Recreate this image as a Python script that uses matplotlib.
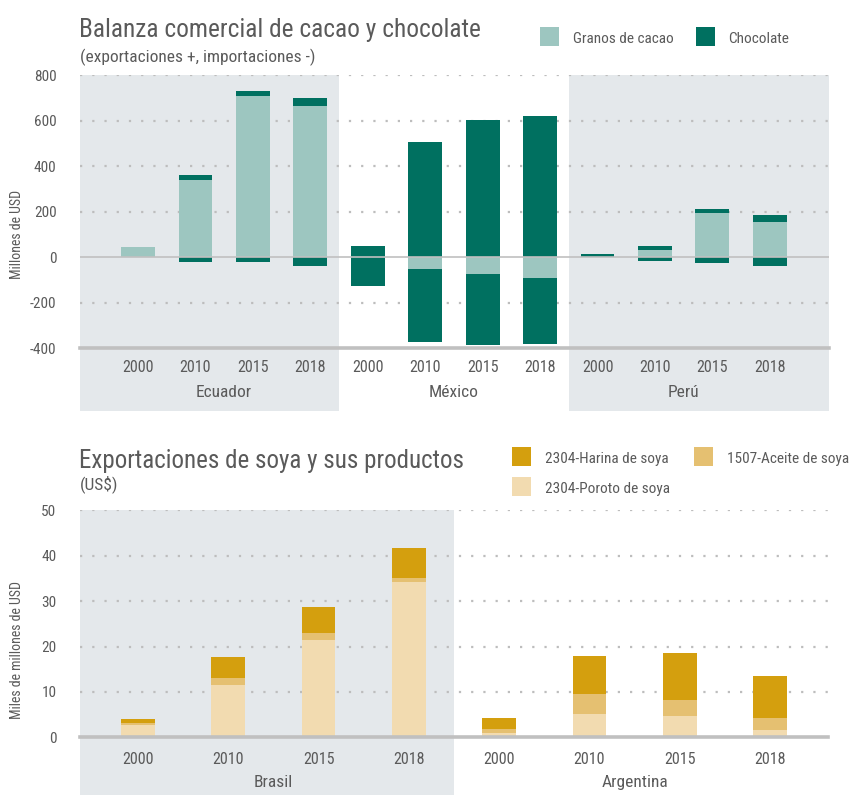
import matplotlib
matplotlib.use("Agg")
import matplotlib.pyplot as plt
from matplotlib import font_manager as fm
from matplotlib.patches import Rectangle
from matplotlib import transforms

# ---------------- data ----------------
years = ["2000", "2010", "2015", "2018"]
countries_cacao = ["Ecuador", "México", "Perú"]
cacao_exp = [45, 341, 710, 665, 0, 0, 0, 0, 0, 32, 195, 155]
choc_exp = [0, 21, 21, 35, 50, 507, 604, 620, 14, 18, 17, 31]
cacao_imp = [0, 0, 0, 0, 0, -52, -74, -91, 0, 0, 0, 0]
choc_imp = [0, -21, -21, -38, -126, -320, -311, -290, 0, -16, -25, -38]
cacao_yticks = [-400, -200, 0, 200, 400, 600, 800]

countries_soya = ["Brasil", "Argentina"]
poroto = [2.7, 11.5, 21.4, 34.2, 0.9, 5.1, 4.7, 1.6]
aceite = [0.45, 1.6, 1.6, 0.9, 0.9, 4.4, 3.5, 2.6]
harina = [0.85, 4.6, 5.7, 6.6, 2.4, 8.4, 10.4, 9.3]
soya_yticks = [0, 10, 20, 30, 40, 50]

# ---------------- style ----------------
C_CACAO = "#9dc6c0"
C_CHOC = "#007060"
C_HARINA = "#d49f0e"
C_ACEITE = "#e5c071"
C_POROTO = "#f2dbb0"
C_SHADE = "#e4e8eb"
C_TEXT = "#5a5a5a"
C_GRID = "#bdbdbd"
C_AXIS = "#c0c0c0"

# condensed font search
cond_path = None
pref = ["Roboto Condensed", "Liberation Sans Narrow", "Open Sans Condensed", "DejaVu Sans"]
cands = []
for f in fm.fontManager.ttflist:
    st = str(f.stretch)
    is_cond = ("ondensed" in st) or ("Narrow" in f.name) or ("Condensed" in f.name)
    if is_cond and f.style == "normal" and f.weight in (400, "normal", "regular", "book"):
        cands.append(f)
for p in pref:
    for f in cands:
        if f.name == p and "Bold" not in f.fname and "Light" not in f.fname:
            cond_path = f.fname
            break
    if cond_path:
        break
if cond_path is None and cands:
    cond_path = cands[0].fname


def fp(size):
    if cond_path:
        return fm.FontProperties(fname=cond_path, size=size)
    return fm.FontProperties(family="Liberation Sans", size=size * 0.88)


W, H = 853, 795
fig = plt.figure(figsize=(W / 100, H / 100), dpi=100)


def fx(x):
    return x / W


def fy(y):
    return 1 - y / H


def add_rect(x, y, w, h, color):
    fig.add_artist(Rectangle((fx(x), fy(y + h)), w / W, h / H,
                             transform=fig.transFigure, color=color, lw=0))


# ================= TOP CHART =================
ax1 = fig.add_axes([fx(80), fy(348.3), 749 / W, 273 / H])
ax1.patch.set_visible(False)
x1 = list(range(12))
ax1.set_xlim(-1.01, 12.03)
ax1.set_ylim(-400, 800)
for s in ax1.spines.values():
    s.set_visible(False)

bt1 = transforms.blended_transform_factory(ax1.transData, ax1.transAxes)
for (a, b) in [(-1.01, 3.5), (7.5, 12.03)]:
    ax1.add_patch(Rectangle((a, -0.231), b - a, 1.231, transform=bt1,
                            color=C_SHADE, lw=0, zorder=0, clip_on=False))

for yv in cacao_yticks:
    if yv in (0, -400):
        continue
    ax1.axhline(yv, color=C_GRID, lw=1.6, ls=(0, (1, 4.5)), zorder=1)

bw = 0.59
ax1.bar(x1, cacao_exp, width=bw, color=C_CACAO, zorder=2, lw=0)
ax1.bar(x1, choc_exp, width=bw, bottom=cacao_exp, color=C_CHOC, zorder=2, lw=0)
ax1.bar(x1, cacao_imp, width=bw, color=C_CACAO, zorder=2, lw=0)
ax1.bar(x1, choc_imp, width=bw, bottom=cacao_imp, color=C_CHOC, zorder=2, lw=0)
ax1.axhline(0, color=C_AXIS, lw=1.2, zorder=3)
ax1.axhline(-400, color=C_AXIS, lw=2.6, zorder=3, clip_on=False)

ax1.set_xticks([])
ax1.set_yticks(cacao_yticks)
ax1.set_yticklabels([str(v) for v in cacao_yticks], fontproperties=fp(11), color=C_TEXT)
ax1.tick_params(axis="y", length=0, pad=17)

for i, xv in enumerate(x1):
    ax1.text(xv, -0.0696, years[i % 4], transform=bt1, ha="center", va="center",
             fontproperties=fp(11.5), color=C_TEXT)
for g, name in enumerate(countries_cacao):
    ax1.text(g * 4 + 1.5, -0.161, name, transform=bt1, ha="center", va="center",
             fontproperties=fp(12.5), color=C_TEXT)

fig.text(fx(17), fy(234), "Millones de USD", rotation=90, ha="center", va="center",
         fontproperties=fp(10), color=C_TEXT)

fig.text(fx(79), fy(37), "Balanza comercial de cacao y chocolate", ha="left",
         va="baseline", fontproperties=fp(18.3), color=C_TEXT)
fig.text(fx(80), fy(57), "(exportaciones +, importaciones -)", ha="left",
         va="center", fontproperties=fp(12.5), color=C_TEXT)

add_rect(540, 27, 19, 19, C_CACAO)
fig.text(fx(573), fy(39), "Granos de cacao", ha="left", va="center",
         fontproperties=fp(11), color=C_TEXT)
add_rect(696, 27, 19, 19, C_CHOC)
fig.text(fx(728), fy(39), "Chocolate", ha="left", va="center",
         fontproperties=fp(11), color=C_TEXT)

# ================= BOTTOM CHART =================
ax2 = fig.add_axes([fx(80), fy(737.3), 748 / W, 227 / H])
ax2.patch.set_visible(False)
x2 = list(range(8))
ax2.set_xlim(-0.642, 7.642)
ax2.set_ylim(0, 50)
for s in ax2.spines.values():
    s.set_visible(False)

bt2 = transforms.blended_transform_factory(ax2.transData, ax2.transAxes)
ax2.add_patch(Rectangle((-0.642, -0.3), 3.5 + 0.642, 1.3, transform=bt2,
                        color=C_SHADE, lw=0, zorder=0, clip_on=False))

for yv in soya_yticks[1:]:
    ax2.axhline(yv, color=C_GRID, lw=1.6, ls=(0, (1, 4.5)), zorder=1)

bw2 = 0.375
b2 = [p + a for p, a in zip(poroto, aceite)]
ax2.bar(x2, poroto, width=bw2, color=C_POROTO, zorder=2, lw=0)
ax2.bar(x2, aceite, width=bw2, bottom=poroto, color=C_ACEITE, zorder=2, lw=0)
ax2.bar(x2, harina, width=bw2, bottom=b2, color=C_HARINA, zorder=2, lw=0)
ax2.axhline(0, color=C_AXIS, lw=2.6, zorder=3, clip_on=False)

ax2.set_xticks([])
ax2.set_yticks(soya_yticks)
ax2.set_yticklabels([str(v) for v in soya_yticks], fontproperties=fp(11), color=C_TEXT)
ax2.tick_params(axis="y", length=0, pad=17)

for i, xv in enumerate(x2):
    ax2.text(xv, -0.097, years[i % 4], transform=bt2, ha="center", va="center",
             fontproperties=fp(11.5), color=C_TEXT)
for g, name in enumerate(countries_soya):
    ax2.text(g * 4 + 1.5, -0.198, name, transform=bt2, ha="center", va="center",
             fontproperties=fp(12.5), color=C_TEXT)

fig.text(fx(17), fy(650), "Miles de millones de USD", rotation=90, ha="center",
         va="center", fontproperties=fp(10), color=C_TEXT)

fig.text(fx(79), fy(468), "Exportaciones de soya y sus productos", ha="left",
         va="baseline", fontproperties=fp(18), color=C_TEXT)
fig.text(fx(80), fy(484), "(US$)", ha="left", va="center",
         fontproperties=fp(12.5), color=C_TEXT)

add_rect(512, 447, 19, 19, C_HARINA)
fig.text(fx(545), fy(459), "2304-Harina de soya", ha="left", va="center",
         fontproperties=fp(11), color=C_TEXT)
add_rect(694, 447, 19, 19, C_ACEITE)
fig.text(fx(727), fy(459), "1507-Aceite de soya", ha="left", va="center",
         fontproperties=fp(11), color=C_TEXT)
add_rect(512, 477, 19, 19, C_POROTO)
fig.text(fx(545), fy(489), "2304-Poroto de soya", ha="left", va="center",
         fontproperties=fp(11), color=C_TEXT)

fig.savefig("out.png", dpi=100)
